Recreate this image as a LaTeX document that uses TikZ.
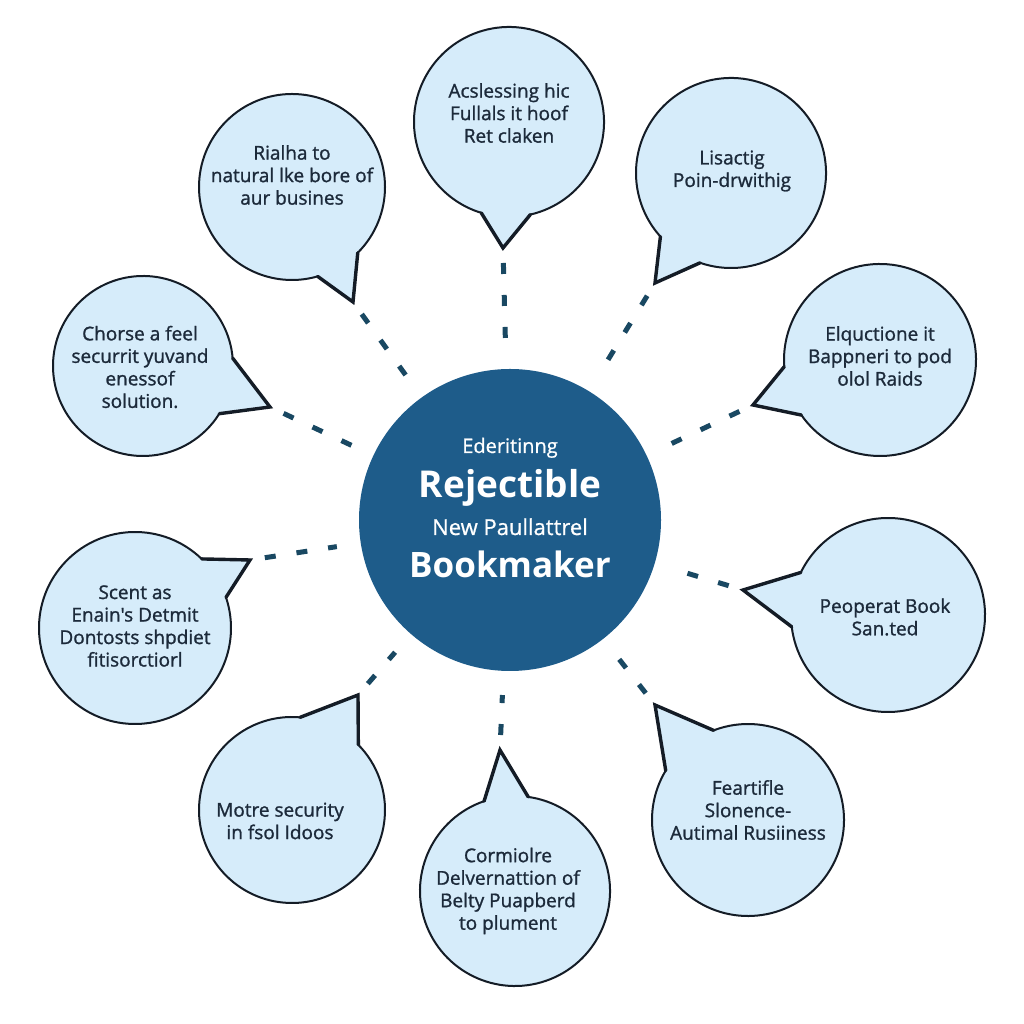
\documentclass[tikz,border=0pt]{standalone}
\usepackage{fontspec}
\setmainfont{Open Sans}
\newfontface\semib{Open Sans}[FakeBold=1.2]
\newfontface\semibh{Open Sans}[FakeBold=0.8]
\usetikzlibrary{calc}
\definecolor{bubfill}{RGB}{214,236,250}
\definecolor{bubline}{RGB}{20,28,38}
\definecolor{txtcol}{RGB}{28,42,58}
\definecolor{hubcol}{RGB}{30,92,138}
\definecolor{dashcol}{RGB}{25,72,98}
\tikzset{
  bub/.style={fill=bubfill, draw=bubline, line width=2pt, line join=round},
  bubtail/.style={draw=bubline, line width=3.4pt, line join=miter, line cap=round},
  bubtext/.style={text=txtcol, align=center, font=\fontsize{19}{22.5}\semib},
  hub/.style={circle, fill=hubcol, minimum size=302pt, inner sep=0pt},
  hubtext/.style={text=white, anchor=base},
  conn/.style={draw=dashcol, line width=5pt, dash pattern=on 11pt off 21pt, shorten <=15pt, shorten >=24pt},
}
\newcommand\speechbub[6]{%
  \coordinate (#1c) at #2;
  \coordinate (#1t) at #6;
  \draw[bub] ($(#1c)+(#4:#3)$) arc[start angle=#4, end angle=#5, radius=#3] -- (#1t) -- cycle;
  \draw[bubtail] ($(#1c)+(#5:#3)$) -- (#1t) -- ($(#1c)+(#4:#3)$);
}
\begin{document}
\begin{tikzpicture}[x=1pt,y=1pt]
\fill[white] (0,0) rectangle (1024,1024);
\useasboundingbox (0,0) rectangle (1024,1024);

% bubbles
\speechbub{b1}{(292,837)}{93}{-45}{286}{(353,722)}
\speechbub{b2}{(509,902)}{95}{283}{613}{(503,776)}
\speechbub{b3}{(731,851)}{95}{251}{582}{(655,741)}
\speechbub{b4}{(143,658)}{90}{5}{328}{(270,617)}
\speechbub{b5}{(880,664)}{96}{215}{544}{(753,619)}
\speechbub{b6}{(135,396)}{96}{46}{378.6}{(250,464)}
\speechbub{b7}{(888,409)}{97}{187}{514}{(743,434)}
\speechbub{b8}{(292,214)}{93}{85}{404.5}{(358,329)}
\speechbub{b9}{(515,133)}{95}{109}{442}{(500,274)}
\speechbub{b10}{(748,204)}{96}{149}{471}{(655,319)}

% hub
\node[hub] (hub) at (510,504) {};
\node[hubtext, font=\fontsize{20}{24}\semibh] (h1) at (510,571) {Ederitinng};
\node[hubtext, font=\fontsize{37}{40}\selectfont\bfseries] (h2) at (510,526) {Rejectible};
\node[hubtext, font=\fontsize{22}{25}\semibh] (h3) at (510,489) {New Paullattrel};
\node[hubtext, font=\fontsize{35}{40}\selectfont\bfseries] (h4) at (510,446) {Bookmaker};

% connectors
\foreach \b in {b1,b2,b3,b4,b5,b6,b7,b8,b9,b10}
  \draw[conn] (\b t) -- (hub);

% bubble texts
\node[bubtext] (t1) at (292,849) {Rialha to\\natural lke bore of\\aur busines};
\node[bubtext] (t2) at (509,911) {Acslessing hic\\Fullals it hoof\\Ret claken};
\node[bubtext] (t3) at (732,853) {Lisactig\\Poin-drwithig};
\node[bubtext] (t4) at (140,657) {Chorse a feel\\securrit yuvand\\enessof\\solution.};
\node[bubtext] (t5) at (880,668) {Elquctione it\\Bappneri to pod\\olol Raids};
\node[bubtext] (t6) at (135,398) {Scent as\\Enain's Detmit\\Dontosts shpdiet\\fitisorctiorl};
\node[bubtext] (t7) at (885,407) {Peoperat Book\\San.ted};
\node[bubtext] (t8) at (280,203) {Motre security\\in fsol Idoos};
\node[bubtext] (t9) at (508,133) {Cormiolre\\Delvernattion of\\Belty Puapberd\\to plument};
\node[bubtext] (t10) at (748,214) {Feartifle\\Slonence-\\Autimal Rusiiness};
\end{tikzpicture}
\end{document}
